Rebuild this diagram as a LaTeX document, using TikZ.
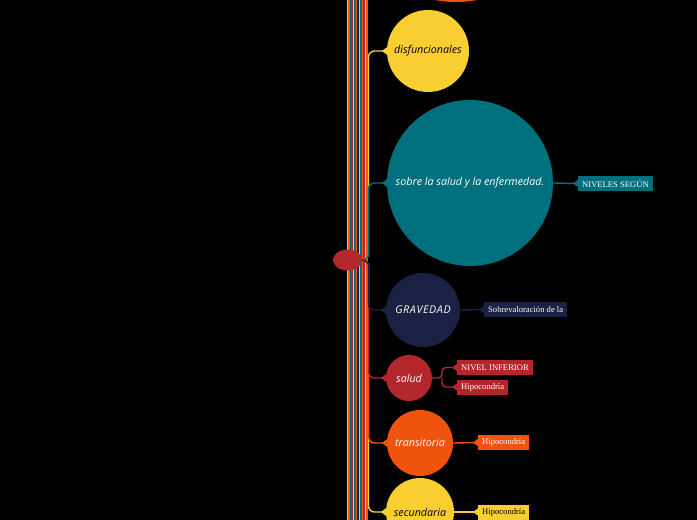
\documentclass[tikz,border=0pt]{standalone}
\usepackage{fontspec}
\setmainfont{Liberation Serif}
\newfontfamily\handfont{Open Sans}
\usetikzlibrary{arrows.meta,calc,shapes.geometric}
\definecolor{cyel}{HTML}{F8CE30}
\definecolor{cora}{HTML}{F0530B}
\definecolor{ctea}{HTML}{00707F}
\definecolor{cnav}{HTML}{1B2142}
\definecolor{cred}{HTML}{B3262B}
\tikzset{
  bubble/.style={circle, inner sep=0pt, fill=#1, font=\handfont\itshape\fontsize{10.7}{12}\selectfont},
  lbl/.style={rectangle, fill=#1, inner sep=0pt, minimum height=15pt, inner xsep=4pt, anchor=west, text=white, font=\fontsize{8.6}{9}\selectfont},
  conn/.style={draw=#1, line width=1.4pt, rounded corners=6pt, -{Triangle[reversed, length=5pt, width=7pt]}},
  bline/.style={line width=1.3pt}
}
\begin{document}
\begin{tikzpicture}[x=1pt,y=-1pt]
\fill[black] (0,0) rectangle (697,520);
\useasboundingbox (0,0) rectangle (697,520);
\clip (0,0) rectangle (697,520);
% bundle of lines
\foreach \i/\c in {0/cyel,1/cora,2/ctea,3/cred,4/cyel,5/ctea,6/cora,7/cnav,8/cyel,9/ctea,10/cora,11/cred,12/cyel,13/cora}{
  \draw[bline, \c] ({347.5+1.5*\i},0) -- ({347.5+1.5*\i},520);
}
% hub
\node[ellipse, fill=cred, minimum width=29pt, minimum height=21pt, inner sep=0pt] (hub) at (347.5,260) {};
% circles
\node[bubble=cora, minimum size=222pt] (c0) at (456,-109) {};
\node[bubble=cyel, minimum size=82pt, text=black] (c1) at (428,51) {disfuncionales};
\node[bubble=ctea, minimum size=166pt, text=white] (c2) at (470,183) {sobre la salud y la enfermedad.};
\node[bubble=cnav, minimum size=74pt, text=white] (c3) at (423,310) {G\kern0.6pt R\kern0.6pt A\kern0.6pt V\kern0.6pt E\kern0.6pt D\kern0.6pt A\kern0.6pt D};
\node[bubble=cred, minimum size=46pt, text=white] (c4) at (409,378) {salud};
\node[bubble=cora, minimum size=66pt, text=white] (c5) at (420,443) {transitoria};
\node[bubble=cyel, minimum size=68pt, text=black] (c6) at (420,512) {secundaria};
% coordinates on the bundle edge
\coordinate (tu) at (368.5,250);
\coordinate (td) at (368.5,270);
% connectors from hub (far ones first)
\draw[conn=cyel] (hub.east) to[out=0,in=-90] (tu) |- (c1.west);
\draw[conn=ctea] (hub.east) to[out=0,in=-90] (tu) |- (c2.west);
\draw[conn=cyel] (hub.east) to[out=0,in=90] (td) |- (c6.west);
\draw[conn=cora] (hub.east) to[out=0,in=90] (td) |- (c5.west);
\draw[conn=cred] (hub.east) to[out=0,in=90] (td) |- (c4.west);
\draw[conn=cnav] (hub.east) to[out=0,in=90] (td) |- (c3.west);
% labels
\node[lbl=ctea] (b2) at (578,183.5) {NIVELES SEGÚN};
\node[lbl=cnav] (b3) at (484,309.5) {Sobrevaloración de la};
\node[lbl=cred] (b41) at (457,367.5) {NIVEL INFERIOR};
\node[lbl=cred] (b42) at (457,387) {Hipocondría};
\node[lbl=cora] (b5) at (478,442.5) {Hipocondría};
\node[lbl=cyel, text=black] (b6) at (478,512) {Hipocondría};
% label connectors
\draw[conn=ctea] (c2.east) -- (b2.west);
\draw[conn=cnav] (c3.east) -- (b3.west);
\coordinate (sj) at (442,378);
\draw[conn=cred, rounded corners=4pt] (c4.east) -- (sj) |- (b41.west);
\draw[conn=cred, rounded corners=4pt] (sj) |- (b42.west);
\draw[conn=cora] (c5.east) -- (b5.west);
\draw[conn=cyel] (c6.east) -- (b6.west);
\end{tikzpicture}
\end{document}
